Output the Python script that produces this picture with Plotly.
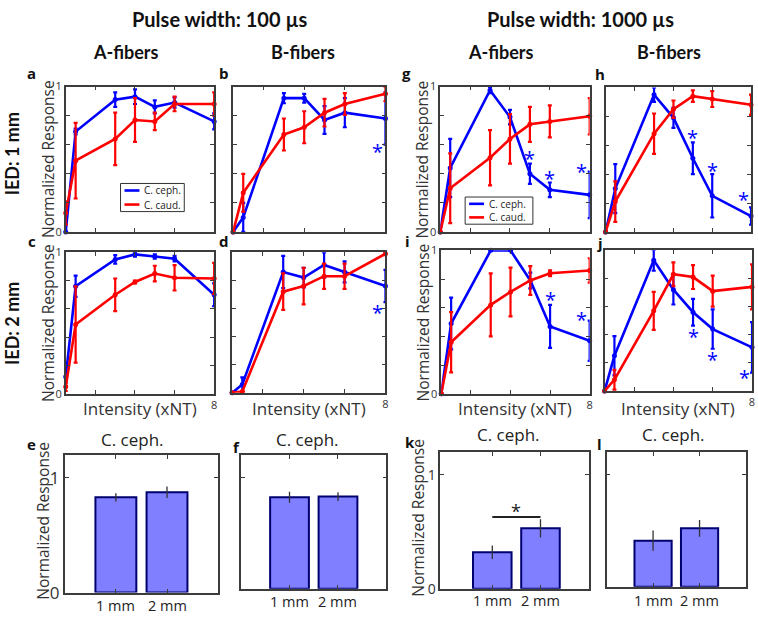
import plotly.graph_objects as go

# ---------------- data ----------------
x_intensity = [0.5, 1, 3, 4, 5, 6, 8]
x_ticks = [2, 4, 6, 8]
series_names = ["C. ceph.", "C. caud."]

a_ceph = [0.00, 0.69, 0.91, 0.93, 0.86, 0.89, 0.76]
a_ceph_err = [0, 0.02, 0.05, 0.05, 0.045, 0.035, 0.055]
a_caud = [0.13, 0.49, 0.64, 0.77, 0.76, 0.88, 0.88]
a_caud_err = [0.08, 0.26, 0.18, 0.15, 0.06, 0.05, 0.08]

b_ceph = [0, 0.10, 0.92, 0.92, 0.77, 0.82, 0.78]
b_ceph_err = [0, 0.10, 0.035, 0.03, 0.095, 0.10, 0.18]
b_caud = [0, 0.27, 0.67, 0.72, 0.82, 0.88, 0.95]
b_caud_err = [0, 0.13, 0.11, 0.11, 0.095, 0.075, 0.05]

c_ceph = [0.12, 0.76, 0.95, 0.985, 0.97, 0.955, 0.70]
c_ceph_err = [0, 0.075, 0.03, 0.015, 0.015, 0.02, 0.08]
c_caud = [0.05, 0.49, 0.70, 0.79, 0.85, 0.82, 0.815]
c_caud_err = [0.03, 0.27, 0.115, 0.01, 0.055, 0.09, 0.11]

d_ceph = [0, 0.06, 0.86, 0.82, 0.91, 0.86, 0.76]
d_ceph_err = [0, 0.05, 0.115, 0.07, 0.09, 0.075, 0.115]
d_caud = [0, 0.01, 0.72, 0.76, 0.83, 0.83, 0.99]
d_caud_err = [0, 0, 0.13, 0.13, 0.09, 0.09, 0.01]

g_ceph = [0, 0.44, 0.975, 0.79, 0.40, 0.29, 0.255]
g_ceph_err = [0, 0.20, 0.02, 0.05, 0.07, 0.05, 0.16]
g_caud = [0, 0.30, 0.51, 0.64, 0.74, 0.76, 0.795]
g_caud_err = [0, 0.24, 0.19, 0.17, 0.12, 0.11, 0.125]

h_ceph = [0, 0.30, 0.95, 0.79, 0.51, 0.25, 0.11]
h_ceph_err = [0, 0.17, 0.05, 0.07, 0.11, 0.15, 0.06]
h_caud = [0, 0.21, 0.68, 0.85, 0.94, 0.92, 0.88]
h_caud_err = [0, 0.14, 0.14, 0.06, 0.04, 0.055, 0.07]

i_ceph = [0, 0.49, 1.0, 1.0, 0.79, 0.47, 0.37]
i_ceph_err = [0, 0.18, 0, 0, 0.055, 0.15, 0.14]
i_caud = [0, 0.36, 0.62, 0.71, 0.79, 0.84, 0.86]
i_caud_err = [0, 0.21, 0.22, 0.17, 0.10, 0.02, 0.085]

j_ceph = [0, 0.25, 0.93, 0.72, 0.56, 0.44, 0.31]
j_ceph_err = [0, 0.14, 0.075, 0.105, 0.095, 0.14, 0.18]
j_caud = [0, 0.08, 0.57, 0.83, 0.81, 0.71, 0.74]
j_caud_err = [0, 0.07, 0.135, 0.085, 0.085, 0.11, 0.16]

# significance stars (x, y) for C. ceph.
b_stars_x, b_stars_y = [8], [0.59]
d_stars_x, d_stars_y = [8], [0.61]
g_stars_x, g_stars_y = [5, 6, 8], [0.54, 0.40, 0.45]
h_stars_x, h_stars_y = [5, 6, 8], [0.69, 0.46, 0.26]
i_stars_x, i_stars_y = [6, 8], [0.69, 0.55]
j_stars_x, j_stars_y = [5, 6, 8], [0.42, 0.26, 0.13]

bar_categories = ["1 mm", "2 mm"]
bar_x = [1, 2]
e_vals, e_err = [0.83, 0.874], [0.035, 0.05]
f_vals, f_err = [0.82, 0.826], [0.05, 0.04]
k_vals, k_err = [0.32, 0.53], [0.06, 0.08]
l_vals, l_err = [0.41, 0.52], [0.09, 0.075]
k_sig_y = 0.63

# ---------------- layout helpers ----------------
W, H = 758, 622
FONT = "Open Sans"
BOLD = "Lato"
BLUE, RED = "#0000ff", "#ff0000"
FRAME = "#3c3c3c"


def px(p):
    return p / W


def py(p):
    return 1 - p / H


def note(x, y, text, size, color="#222", family=FONT, angle=0, xanchor="center", **kw):
    return dict(x=px(x), y=py(y), xref="paper", yref="paper", text=text, textangle=angle,
                showarrow=False, xanchor=xanchor, yanchor="middle",
                font=dict(family=family, size=size, color=color), **kw)


fig = go.Figure()
annotations = []
shapes = []

line_panels = [
    # key, ceph, ceph_err, caud, caud_err, stars, box(l,r,t,b), ylabels, xlabel, legend box
    ("a", a_ceph, a_ceph_err, a_caud, a_caud_err, ([], []), (66, 215, 81, 231), True, False, (121, 185, 181, 210)),
    ("b", b_ceph, b_ceph_err, b_caud, b_caud_err, (b_stars_x, b_stars_y), (234, 387, 81, 231), False, False, None),
    ("g", g_ceph, g_ceph_err, g_caud, g_caud_err, (g_stars_x, g_stars_y), (442, 592, 81, 231), True, False, (467, 535, 195, 223)),
    ("h", h_ceph, h_ceph_err, h_caud, h_caud_err, (h_stars_x, h_stars_y), (608, 754, 82, 231), False, False, None),
    ("c", c_ceph, c_ceph_err, c_caud, c_caud_err, ([], []), (66, 215, 252, 398), True, True, None),
    ("d", d_ceph, d_ceph_err, d_caud, d_caud_err, (d_stars_x, d_stars_y), (233, 387, 252, 397), False, True, None),
    ("i", i_ceph, i_ceph_err, i_caud, i_caud_err, (i_stars_x, i_stars_y), (443, 592, 250, 398), True, True, None),
    ("j", j_ceph, j_ceph_err, j_caud, j_caud_err, (j_stars_x, j_stars_y), (607, 755, 250, 395), False, True, None),
]

letter_pos = {"a": (32, 67), "b": (225, 67), "g": (408, 67), "h": (602, 68),
              "c": (32, 240), "d": (225, 240), "i": (409, 240), "j": (602, 242),
              "e": (32, 450), "f": (237, 453), "k": (412, 448), "l": (602, 450)}

axis_n = 0
for key, ceph, ceph_err, caud, caud_err, stars, box, ylab, xlab, leg in line_panels:
    axis_n += 1
    xa = "x" if axis_n == 1 else f"x{axis_n}"
    ya = "y" if axis_n == 1 else f"y{axis_n}"
    l, r, t, b = box
    for vals, errs, col, name in ((ceph, ceph_err, BLUE, series_names[0]),
                                  (caud, caud_err, RED, series_names[1])):
        fig.add_trace(go.Scatter(
            x=x_intensity, y=vals, xaxis=xa, yaxis=ya, mode="lines+markers", name=name,
            line=dict(color=col, width=2.6), marker=dict(color=col, size=5),
            error_y=dict(type="data", array=errs, color=col, thickness=2.2, width=2),
            showlegend=False, cliponaxis=False))
    if leg:
        ll, lr, lt, lb = leg
        shapes.append(dict(type="rect", xref="paper", yref="paper", x0=px(ll), x1=px(lr),
                           y0=py(lb), y1=py(lt), line=dict(color="#333", width=1),
                           fillcolor="white", layer="above"))
        h2 = (lb - lt) / 4
        for idx, (name, col) in enumerate(zip(series_names, (BLUE, RED))):
            yy = lt + h2 * (1 + 2 * idx)
            shapes.append(dict(type="line", xref="paper", yref="paper", x0=px(ll + 4),
                               x1=px(ll + 19), y0=py(yy), y1=py(yy), layer="above",
                               line=dict(color=col, width=2.6)))
            annotations.append(note(ll + 22, yy, name, 10, "#222", xanchor="left"))
    for sx, sy in zip(*stars):
        annotations.append(dict(x=sx, y=sy, xref=xa, yref=ya, text="*", showarrow=False,
                                xanchor="center", yanchor="middle",
                                font=dict(family=FONT, size=20, color=BLUE),
                                xshift=-8 if sx == 8 else 0, yshift=-5))
    axkey = "xaxis" if axis_n == 1 else f"xaxis{axis_n}"
    aykey = "yaxis" if axis_n == 1 else f"yaxis{axis_n}"
    fig.layout[axkey] = dict(
        domain=[px(l), px(r)], anchor=ya, range=[0.5, 8], tickvals=x_ticks,
        ticktext=["", "", "", "8"] if xlab else ["", "", "", ""],
        ticks="inside", ticklen=4, tickcolor=FRAME, showline=True, linecolor=FRAME,
        linewidth=1.6, mirror="ticks", showgrid=False, zeroline=False,
        tickfont=dict(family=FONT, size=11, color="#333"))
    fig.layout[aykey] = dict(
        domain=[py(b), py(t)], anchor=xa, range=[0, 1],
        tickvals=[0, 0.2, 0.4, 0.6, 0.8, 1],
        ticktext=["0", "", "", "", "", "1"] if ylab else [""] * 6,
        ticks="inside", ticklen=4, tickcolor=FRAME, showline=True, linecolor=FRAME,
        linewidth=1.6, mirror="ticks", showgrid=False, zeroline=False,
        tickfont=dict(family=FONT, size=11, color="#333"))
    if ylab:
        annotations.append(note(l - 18, (t + b) / 2, "Normalized Response", 15.5, "#333", angle=-90))
    if xlab:
        annotations.append(note((l + r) / 2, 413, "Intensity (xNT)", 17, "#333"))

bar_panels = [
    # key, values, errors, box, ylabels, x range, label y, title pos, y-title x, tick font
    ("e", e_vals, e_err, (65, 219, 461, 603), True, [0, 3], 616, (133, 445), 43, 17),
    ("f", f_vals, f_err, (242, 388, 461, 599), False, [0, 3], 612, (309, 445), None, 17),
    ("k", k_vals, k_err, (442, 591, 458, 599), True, [-0.08, 3], 611, (511, 440), 420, 14),
    ("l", l_vals, l_err, (609, 749, 458, 597), False, [0, 3], 611, (676, 440), None, 14),
]
for key, vals, errs, box, ylab, xr, lab_y, title_pos, ytx, tfs in bar_panels:
    axis_n += 1
    xa, ya = f"x{axis_n}", f"y{axis_n}"
    l, r, t, b = box
    fig.add_trace(go.Bar(
        x=bar_x, y=vals, xaxis=xa, yaxis=ya, width=0.8,
        marker=dict(color="#7f7fff", line=dict(color="#00006e", width=2)),
        error_y=dict(type="data", array=errs, color="#333", thickness=1.3, width=0),
        showlegend=False))
    fig.layout[f"xaxis{axis_n}"] = dict(
        domain=[px(l), px(r)], anchor=ya, range=xr, tickvals=bar_x, ticktext=["", ""],
        ticks="inside", ticklen=4, tickcolor=FRAME, showline=True, linecolor=FRAME,
        linewidth=1.6, mirror="ticks", showgrid=False, zeroline=False)
    fig.layout[f"yaxis{axis_n}"] = dict(
        domain=[py(b), py(t)], anchor=xa, range=[0, 1.2], tickvals=[0, 1],
        ticktext=["0", "1"] if ylab else ["", ""],
        ticks="inside", ticklen=4, tickcolor=FRAME, showline=True, linecolor=FRAME,
        linewidth=1.6, mirror="ticks", showgrid=False, zeroline=False,
        tickfont=dict(family=FONT, size=tfs, color="#333"))
    for bx, cat in zip(bar_x, bar_categories):
        annotations.append(dict(x=bx, y=py(lab_y), xref=xa, yref="paper", text=cat,
                                showarrow=False, xanchor="center", yanchor="middle",
                                font=dict(family=FONT, size=14.5, color="#222")))
    annotations.append(note(title_pos[0], title_pos[1], "C. ceph.", 17, "#222"))
    if ylab:
        annotations.append(note(ytx, (t + b) / 2 - 3, "Normalized Response", 15.5, "#333", angle=-90))
    if key == "k":
        shapes.append(dict(type="line", xref=xa, yref=ya, x0=bar_x[0], x1=bar_x[1],
                           y0=k_sig_y, y1=k_sig_y, line=dict(color="#222", width=2)))
        annotations.append(dict(x=sum(bar_x) / 2, y=k_sig_y, xref=xa, yref=ya, text="*",
                                showarrow=False, yshift=6, xanchor="center", yanchor="middle",
                                font=dict(family=FONT, size=18, color="#222")))

for letter, (lx, ly) in letter_pos.items():
    annotations.append(note(lx, ly, f"<b>{letter}</b>", 15, "#111"))

headers = [("Pulse width: 100 µs", 221, 11, 20), ("Pulse width: 1000 µs", 583, 11, 20),
           ("A-fibers", 126, 45, 18), ("B-fibers", 304, 45, 18),
           ("A-fibers", 503, 45, 18), ("B-fibers", 672, 45, 18)]
for txt, hx, hy, fs in headers:
    annotations.append(note(hx, hy, f"<b>{txt}</b>", fs, "#111", family=BOLD))
for txt, yy in (("IED: 1 mm", 150), ("IED: 2 mm", 325)):
    annotations.append(note(12, yy, f"<b>{txt}</b>", 18, "#111", family=BOLD, angle=-90))

fig.update_layout(
    width=W, height=H, margin=dict(l=0, r=0, t=0, b=0),
    plot_bgcolor="white", paper_bgcolor="white",
    annotations=annotations, shapes=shapes, showlegend=False,
)

fig.write_html("out.html", config={"displayModeBar": False},
               post_script="document.body.style.margin='0px';document.body.style.padding='0px';")
